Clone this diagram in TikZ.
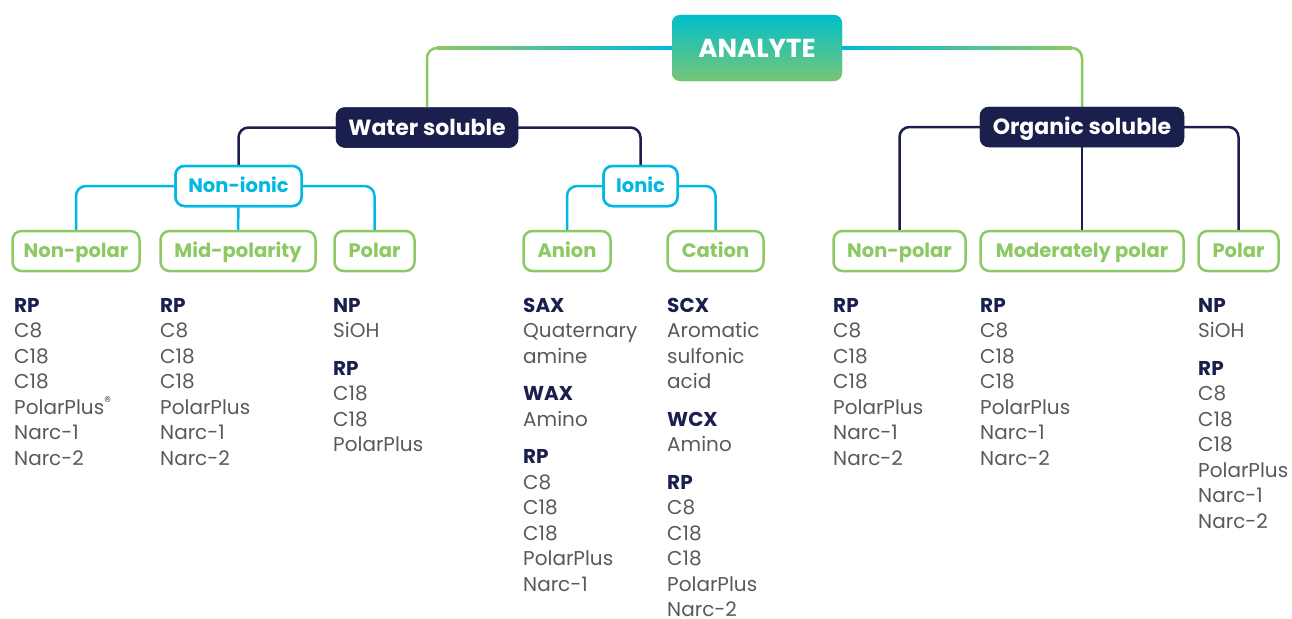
\documentclass[tikz,border=0pt]{standalone}
\usepackage{fontspec}
\setmainfont{Poppins}
\usetikzlibrary{calc}

\definecolor{navy}{HTML}{1B1F4E}
\definecolor{skyc}{HTML}{00B8E0}
\definecolor{leaf}{HTML}{8CC863}
\definecolor{itemgray}{HTML}{58595B}

\newcommand{\hd}[1]{{\bfseries\color{navy}#1}}

\tikzset{
  topbox/.style={rounded corners=8pt, top color=skyc!90!green, bottom color=leaf!85!skyc,
    text=white, font=\fontsize{26}{28}\selectfont\bfseries, minimum height=66pt,
    text height=18pt, text depth=0pt},
  solbox/.style={rounded corners=9pt, fill=navy, draw=navy, text=white,
    font=\fontsize{22}{24}\selectfont\bfseries, minimum height=40pt,
    text height=15.5pt, text depth=0pt},
  ionbox/.style={rounded corners=9pt, fill=white, draw=skyc, line width=2.5pt, text=skyc,
    font=\fontsize{19.5}{22}\selectfont\bfseries, minimum height=40pt,
    text height=13.5pt, text depth=0pt},
  polbox/.style={rounded corners=9pt, fill=white, draw=leaf, line width=2.5pt, text=leaf,
    font=\fontsize{19.5}{22}\selectfont\bfseries, minimum height=40pt,
    text height=13.5pt, text depth=0pt},
  navyline/.style={draw=navy, line width=2.5pt, rounded corners=10pt},
  skyline/.style={draw=skyc, line width=2.5pt, rounded corners=10pt},
  leafline/.style={draw=leaf, line width=2.5pt, rounded corners=10pt},
  list/.style={anchor=north west, align=left, inner sep=0pt, text=itemgray,
    font=\fontsize{20}{25.5}\selectfont},
}

\begin{document}
\begin{tikzpicture}[x=1pt,y=-1pt]
\useasboundingbox (0,0) rectangle (1292,618);

% top and second level
\node[topbox, minimum width=170pt] (analyte) at (757,48) {ANALYTE};
\node[solbox, minimum width=182pt] (water) at (427,127.5) {Water soluble};
\node[solbox, minimum width=204pt] (organic) at (1082,127) {Organic soluble};

% ionic level
\node[ionbox, minimum width=126pt] (nonionic) at (238.5,186) {Non-ionic};
\node[ionbox, minimum width=74pt] (ionic) at (640.5,186) {Ionic};

% polarity level
\node[polbox, minimum width=127pt] (nonpolA) at (76,251) {Non-polar};
\node[polbox, minimum width=155pt] (midpol) at (238,251) {Mid-polarity};
\node[polbox, minimum width=80pt] (polA) at (374.5,251) {Polar};
\node[polbox, minimum width=87pt] (anion) at (567,251) {Anion};
\node[polbox, minimum width=96pt] (cation) at (715.5,251) {Cation};
\node[polbox, minimum width=132pt] (nonpolB) at (899.5,251) {Non-polar};
\node[polbox, minimum width=203pt] (modpol) at (1082,251) {Moderately polar};
\node[polbox, minimum width=80pt] (polB) at (1238.5,251) {Polar};

% connectors
\draw[leafline] (analyte.west) -| (water.north);
\draw[leafline] (analyte.east) -| (organic.north);
\shade[left color=leaf, right color=skyc]
  ($(water.north |- analyte.west)+(10,-1.25)$) rectangle ($(analyte.west)+(0,1.25)$);
\shade[left color=skyc, right color=leaf]
  ($(analyte.east)+(0,-1.25)$) rectangle ($(organic.north |- analyte.east)+(-10,1.25)$);

\draw[navyline] (water.west) -| (nonionic.north);
\draw[navyline] (water.east) -| (ionic.north);
\draw[navyline] (organic.west) -| (nonpolB.north);
\draw[navyline] (organic.south) -- (modpol.north);
\draw[navyline] (organic.east) -| (polB.north);

\draw[skyline] (nonionic.west) -| (nonpolA.north);
\draw[skyline] (nonionic.south) -- (midpol.north);
\draw[skyline] (nonionic.east) -| (polA.north);
\draw[skyline] (ionic.west) -| (anion.north);
\draw[skyline] (ionic.east) -| (cation.north);

% redraw boxes over line ends
\node[solbox, minimum width=182pt] at (water) {Water soluble};
\node[solbox, minimum width=204pt] at (organic) {Organic soluble};
\node[ionbox, minimum width=126pt] at (nonionic) {Non-ionic};
\node[ionbox, minimum width=74pt] at (ionic) {Ionic};
\node[topbox, minimum width=170pt] at (analyte) {ANALYTE};

% column lists
\node[list] (listA) at (14,298) {\hd{RP}\\C8\\C18\\C18\\PolarPlus\textsuperscript{\textregistered}\\Narc-1\\Narc-2};
\node[list] (listB) at (160,298) {\hd{RP}\\C8\\C18\\C18\\PolarPlus\\Narc-1\\Narc-2};
\node[list] (listC) at (333,298) {\hd{NP}\\SiOH\\[12pt]\hd{RP}\\C18\\C18\\PolarPlus};
\node[list] (listD) at (523,298) {\hd{SAX}\\Quaternary\\amine\\[12pt]\hd{WAX}\\Amino\\[12pt]\hd{RP}\\C8\\C18\\C18\\PolarPlus\\Narc-1};
\node[list] (listE) at (667,298) {\hd{SCX}\\Aromatic\\sulfonic\\acid\\[12pt]\hd{WCX}\\Amino\\[12pt]\hd{RP}\\C8\\C18\\C18\\PolarPlus\\Narc-2};
\node[list] (listF) at (833,298) {\hd{RP}\\C8\\C18\\C18\\PolarPlus\\Narc-1\\Narc-2};
\node[list] (listG) at (980,298) {\hd{RP}\\C8\\C18\\C18\\PolarPlus\\Narc-1\\Narc-2};
\node[list] (listH) at (1198,298) {\hd{NP}\\SiOH\\[12pt]\hd{RP}\\C8\\C18\\C18\\PolarPlus\\Narc-1\\Narc-2};
\end{tikzpicture}
\end{document}
